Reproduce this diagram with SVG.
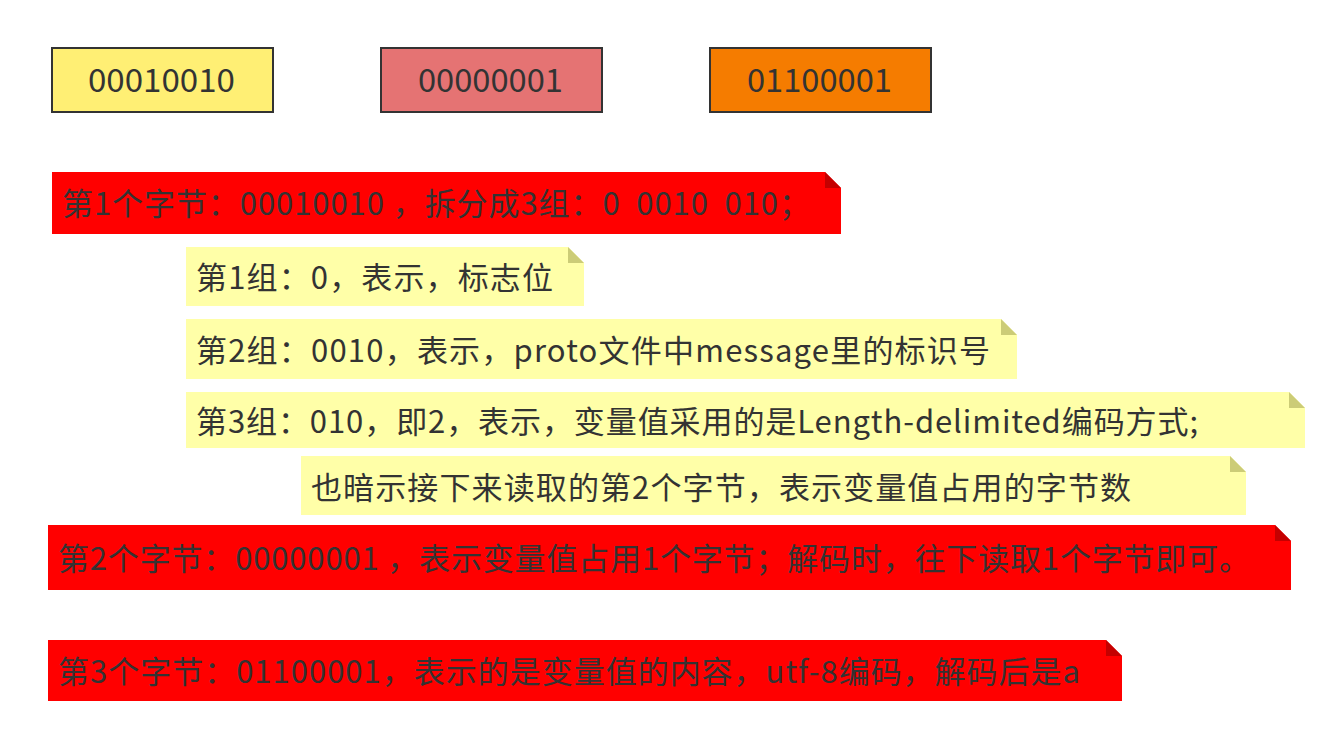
<svg xmlns="http://www.w3.org/2000/svg" width="1336" height="733" viewBox="0 0 1336 733">
<style>
text{font-family:"Noto Sans CJK SC","Microsoft YaHei",sans-serif;fill:#333333;dominant-baseline:central}
.box{stroke:#333333;stroke-width:2}
.bt{font-size:32px}
.nt{font-size:31px}
.red{fill:#FF0000}
.redf{fill:#C40000}
.yel{fill:#FFFFA8}
.yelf{fill:#CCCC77}
</style>
<rect width="1336" height="733" fill="#ffffff"/>
<g id="byte1"><rect class="box" x="52" y="48" width="221" height="64" fill="#FFEF74"/><text class="bt" x="88" y="78" textLength="147" lengthAdjust="spacingAndGlyphs">00010010</text></g>
<g id="byte2"><rect class="box" x="381" y="48" width="221" height="64" fill="#E57373"/><text class="bt" x="418" y="78" textLength="145" lengthAdjust="spacingAndGlyphs">00000001</text></g>
<g id="byte3"><rect class="box" x="710" y="48" width="221" height="64" fill="#F57C00"/><text class="bt" x="747" y="78" textLength="145" lengthAdjust="spacingAndGlyphs">01100001</text></g>
<g id="note1"><path class="red" d="M52 172H825L841 188V234H52Z"/><path class="redf" d="M825 172L841 188H825Z"/><text class="nt" x="62" y="201" xml:space="preserve" textLength="748" lengthAdjust="spacing">第1个字节：00010010 ，拆分成3组：0  0010  010；</text></g>
<g id="g1"><path class="yel" d="M186 247H568L584 263V306H186Z"/><path class="yelf" d="M568 247L584 263H568Z"/><text class="nt" x="196" y="275" textLength="357" lengthAdjust="spacing">第1组：0，表示，标志位</text></g>
<g id="g2"><path class="yel" d="M186 319H1001L1017 335V379H186Z"/><path class="yelf" d="M1001 319L1017 335H1001Z"/><text class="nt" x="196" y="348" textLength="794" lengthAdjust="spacing">第2组：0010，表示，proto文件中message里的标识号</text></g>
<g id="g3"><path class="yel" d="M186 392H1289L1305 408V448H186Z"/><path class="yelf" d="M1289 392L1305 408H1289Z"/><text class="nt" x="196" y="419" textLength="1002" lengthAdjust="spacing">第3组：010，即2，表示，变量值采用的是Length-delimited编码方式;</text></g>
<g id="g4"><path class="yel" d="M301 456H1230L1246 472V515H301Z"/><path class="yelf" d="M1230 456L1246 472H1230Z"/><text class="nt" x="311" y="485" textLength="820" lengthAdjust="spacing">也暗示接下来读取的第2个字节，表示变量值占用的字节数</text></g>
<g id="note2"><path class="red" d="M48 525H1275L1291 541V590H48Z"/><path class="redf" d="M1275 525L1291 541H1275Z"/><text class="nt" x="58" y="556" textLength="1192" lengthAdjust="spacing">第2个字节：00000001 ，表示变量值占用1个字节；解码时，往下读取1个字节即可。</text></g>
<g id="note3"><path class="red" d="M48 640H1106L1122 656V701H48Z"/><path class="redf" d="M1106 640L1122 656H1106Z"/><text class="nt" x="58" y="669" textLength="1022" lengthAdjust="spacing">第3个字节：01100001，表示的是变量值的内容，utf-8编码，解码后是a</text></g>
<g id="connectors"></g>
</svg>
